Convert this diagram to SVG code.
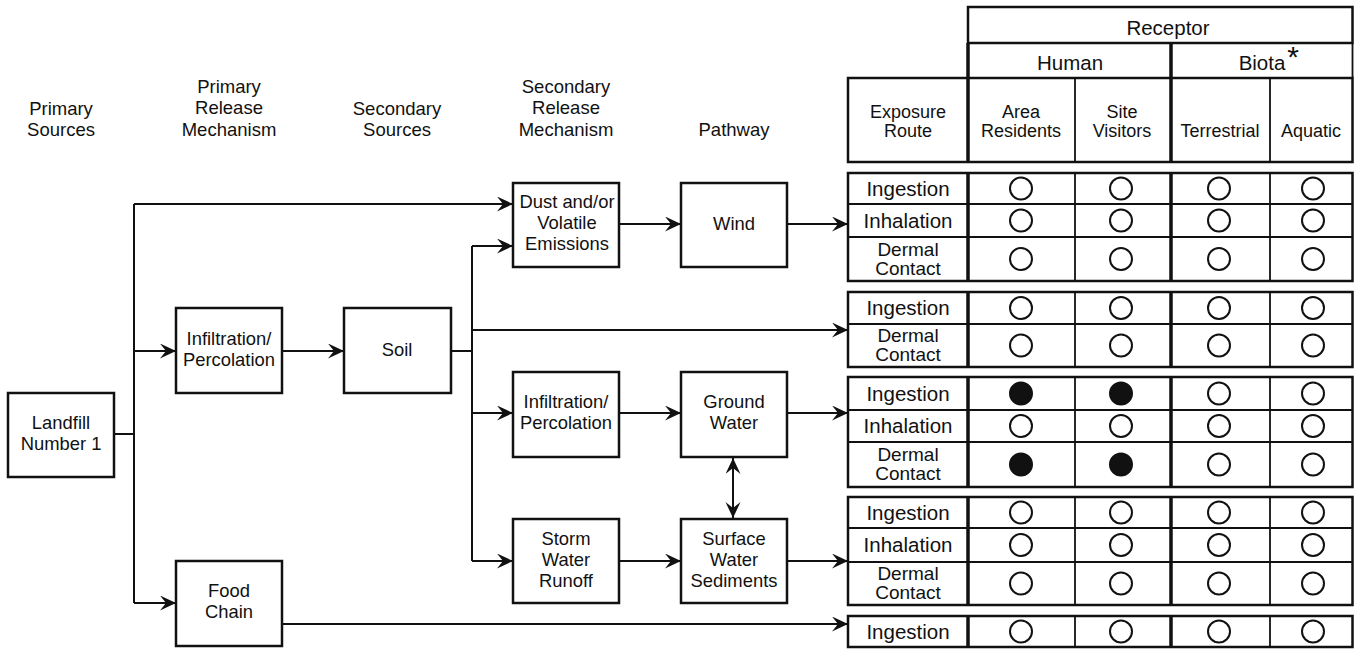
<svg xmlns="http://www.w3.org/2000/svg" width="1354" height="651" viewBox="0 0 1354 651">
<defs>
<style>
text{font-family:"Liberation Sans",Arial,sans-serif;fill:#111;text-anchor:middle}
.hd{font-size:18.5px}
.nd{font-size:18.4px}
.cell{font-size:20.5px}
.dc{font-size:19px}
.ch{font-size:18px}
.big{font-size:20.5px}
.box{fill:#fff;stroke:#111;stroke-width:2.5}
.ln{fill:none;stroke:#111;stroke-width:2}
.thin{fill:none;stroke:#111;stroke-width:1.8}
.thick{fill:none;stroke:#111;stroke-width:3.5}
.o{fill:#fff;stroke:#111;stroke-width:2}
.f{fill:#111;stroke:#111;stroke-width:2}
</style>
<marker id="ah" markerUnits="userSpaceOnUse" markerWidth="17" markerHeight="16" refX="16" refY="7.5" orient="auto-start-reverse">
<path d="M0,0 L16,7.5 L0,15 L6,7.5 Z" fill="#111"/>
</marker>
</defs>

<g id="column-labels">
<text class="hd" x="61" y="115">Primary</text>
<text class="hd" x="61" y="136">Sources</text>
<text class="hd" x="229" y="93">Primary</text>
<text class="hd" x="229" y="114">Release</text>
<text class="hd" x="229" y="136">Mechanism</text>
<text class="hd" x="397" y="115">Secondary</text>
<text class="hd" x="397" y="136">Sources</text>
<text class="hd" x="566" y="93">Secondary</text>
<text class="hd" x="566" y="114">Release</text>
<text class="hd" x="566" y="136">Mechanism</text>
<text class="hd" x="734" y="136">Pathway</text>
</g>

<g id="connectors">
<path class="ln" d="M114,434 H134"/>
<path class="ln" d="M134,204 V603"/>
<path class="ln" d="M134,204 H513" marker-end="url(#ah)"/>
<path class="ln" d="M134,351 H176" marker-end="url(#ah)"/>
<path class="ln" d="M134,603 H176" marker-end="url(#ah)"/>
<path class="ln" d="M282,351 H344" marker-end="url(#ah)"/>
<path class="ln" d="M451,351 H472"/>
<path class="ln" d="M472,246 V561"/>
<path class="ln" d="M472,246 H513" marker-end="url(#ah)"/>
<path class="ln" d="M472,330 H848" marker-end="url(#ah)"/>
<path class="ln" d="M472,413 H513" marker-end="url(#ah)"/>
<path class="ln" d="M472,561 H513" marker-end="url(#ah)"/>
<path class="ln" d="M619,224 H681" marker-end="url(#ah)"/>
<path class="ln" d="M787,224 H848" marker-end="url(#ah)"/>
<path class="ln" d="M619,413 H681" marker-end="url(#ah)"/>
<path class="ln" d="M787,413 H848" marker-end="url(#ah)"/>
<path class="ln" d="M619,561 H681" marker-end="url(#ah)"/>
<path class="ln" d="M787,561 H848" marker-end="url(#ah)"/>
<path class="ln" d="M733,458 V518" marker-start="url(#ah)" marker-end="url(#ah)"/>
<path class="ln" d="M282,624 H848" marker-end="url(#ah)"/>
</g>

<g id="landfill">
<rect class="box" x="8" y="393" width="106" height="84"/>
<text class="nd" x="61" y="429">Landfill</text>
<text class="nd" x="61" y="450">Number 1</text>
</g>
<g id="infiltration1">
<rect class="box" x="176" y="308" width="106" height="85"/>
<text class="nd" x="229" y="345">Infiltration/</text>
<text class="nd" x="229" y="366">Percolation</text>
</g>
<g id="food-chain">
<rect class="box" x="176" y="561" width="106" height="85"/>
<text class="nd" x="229" y="597">Food</text>
<text class="nd" x="229" y="618">Chain</text>
</g>
<g id="soil">
<rect class="box" x="344" y="308" width="107" height="85"/>
<text class="nd" x="397" y="356">Soil</text>
</g>
<g id="dust">
<rect class="box" x="513" y="183" width="106" height="84"/>
<text class="nd" x="567" y="208">Dust and/or</text>
<text class="nd" x="567" y="229">Volatile</text>
<text class="nd" x="567" y="250">Emissions</text>
</g>
<g id="wind">
<rect class="box" x="681" y="183" width="106" height="84"/>
<text class="nd" x="734" y="230">Wind</text>
</g>
<g id="infiltration2">
<rect class="box" x="513" y="372" width="106" height="85"/>
<text class="nd" x="566" y="408">Infiltration/</text>
<text class="nd" x="566" y="429">Percolation</text>
</g>
<g id="ground-water">
<rect class="box" x="681" y="372" width="106" height="85"/>
<text class="nd" x="734" y="408">Ground</text>
<text class="nd" x="734" y="429">Water</text>
</g>
<g id="storm">
<rect class="box" x="513" y="519" width="106" height="84"/>
<text class="nd" x="566" y="545">Storm</text>
<text class="nd" x="566" y="566">Water</text>
<text class="nd" x="566" y="587">Runoff</text>
</g>
<g id="surface">
<rect class="box" x="681" y="519" width="106" height="84"/>
<text class="nd" x="734" y="545">Surface</text>
<text class="nd" x="734" y="566">Water</text>
<text class="nd" x="734" y="587">Sediments</text>
</g>

<g id="table-header">
<rect class="box" x="968" y="7" width="384.5" height="36"/>
<text class="big" x="1168" y="35">Receptor</text>
<path class="thin" d="M968,78 H1352.5 M1352.5,43 V78"/>
<path class="thick" d="M968,43 V162 M1171,43 V162"/>
<text class="big" x="1070" y="70">Human</text>
<text class="big" x="1262" y="70">Biota</text>
<text x="1293" y="67" style="font-size:30px">*</text>
<rect class="box" x="848" y="78" width="504.5" height="84"/>
<path class="thin" d="M1075,78 V162 M1270,78 V162"/>
<path class="thick" d="M968,78 V162 M1171,78 V162"/>
<text class="ch" x="908" y="118">Exposure</text>
<text class="ch" x="908" y="137">Route</text>
<text class="ch" x="1021" y="118">Area</text>
<text class="ch" x="1021" y="137">Residents</text>
<text class="ch" x="1122" y="118">Site</text>
<text class="ch" x="1122" y="137">Visitors</text>
<text class="ch" x="1220" y="137">Terrestrial</text>
<text class="ch" x="1311" y="137">Aquatic</text>
</g>

<g id="exposure-wind">
<rect class="box" x="848" y="173" width="504.5" height="108"/>
<path class="thin" d="M848,204 H1352.5 M848,237 H1352.5 M1075,173 V281 M1270,173 V281"/>
<path class="thick" d="M968,173 V281 M1171,173 V281"/>
<text class="cell" x="908" y="196">Ingestion</text>
<text class="cell" x="908" y="228">Inhalation</text>
<text class="dc" x="908" y="256">Dermal</text>
<text class="dc" x="908" y="275">Contact</text>
<circle class="o" cx="1021" cy="188.5" r="11"/><circle class="o" cx="1121" cy="188.5" r="11"/><circle class="o" cx="1219" cy="188.5" r="11"/><circle class="o" cx="1313" cy="188.5" r="11"/>
<circle class="o" cx="1021" cy="220.5" r="11"/><circle class="o" cx="1121" cy="220.5" r="11"/><circle class="o" cx="1219" cy="220.5" r="11"/><circle class="o" cx="1313" cy="220.5" r="11"/>
<circle class="o" cx="1021" cy="259" r="11"/><circle class="o" cx="1121" cy="259" r="11"/><circle class="o" cx="1219" cy="259" r="11"/><circle class="o" cx="1313" cy="259" r="11"/>
</g>

<g id="exposure-soil">
<rect class="box" x="848" y="292" width="504.5" height="75"/>
<path class="thin" d="M848,324 H1352.5 M1075,292 V367 M1270,292 V367"/>
<path class="thick" d="M968,292 V367 M1171,292 V367"/>
<text class="cell" x="908" y="315">Ingestion</text>
<text class="dc" x="908" y="342">Dermal</text>
<text class="dc" x="908" y="361">Contact</text>
<circle class="o" cx="1021" cy="308" r="11"/><circle class="o" cx="1121" cy="308" r="11"/><circle class="o" cx="1219" cy="308" r="11"/><circle class="o" cx="1313" cy="308" r="11"/>
<circle class="o" cx="1021" cy="345.5" r="11"/><circle class="o" cx="1121" cy="345.5" r="11"/><circle class="o" cx="1219" cy="345.5" r="11"/><circle class="o" cx="1313" cy="345.5" r="11"/>
</g>

<g id="exposure-groundwater">
<rect class="box" x="848" y="377" width="504.5" height="110"/>
<path class="thin" d="M848,410 H1352.5 M848,442 H1352.5 M1075,377 V487 M1270,377 V487"/>
<path class="thick" d="M968,377 V487 M1171,377 V487"/>
<text class="cell" x="908" y="401">Ingestion</text>
<text class="cell" x="908" y="433">Inhalation</text>
<text class="dc" x="908" y="461">Dermal</text>
<text class="dc" x="908" y="480">Contact</text>
<circle class="f" cx="1021" cy="393.5" r="11"/><circle class="f" cx="1121" cy="393.5" r="11"/><circle class="o" cx="1219" cy="393.5" r="11"/><circle class="o" cx="1313" cy="393.5" r="11"/>
<circle class="o" cx="1021" cy="426" r="11"/><circle class="o" cx="1121" cy="426" r="11"/><circle class="o" cx="1219" cy="426" r="11"/><circle class="o" cx="1313" cy="426" r="11"/>
<circle class="f" cx="1021" cy="464.5" r="11"/><circle class="f" cx="1121" cy="464.5" r="11"/><circle class="o" cx="1219" cy="464.5" r="11"/><circle class="o" cx="1313" cy="464.5" r="11"/>
</g>

<g id="exposure-surfacewater">
<rect class="box" x="848" y="497" width="504.5" height="108"/>
<path class="thin" d="M848,528 H1352.5 M848,562 H1352.5 M1075,497 V605 M1270,497 V605"/>
<path class="thick" d="M968,497 V605 M1171,497 V605"/>
<text class="cell" x="908" y="520">Ingestion</text>
<text class="cell" x="908" y="552">Inhalation</text>
<text class="dc" x="908" y="580">Dermal</text>
<text class="dc" x="908" y="599">Contact</text>
<circle class="o" cx="1021" cy="512.5" r="11"/><circle class="o" cx="1121" cy="512.5" r="11"/><circle class="o" cx="1219" cy="512.5" r="11"/><circle class="o" cx="1313" cy="512.5" r="11"/>
<circle class="o" cx="1021" cy="545" r="11"/><circle class="o" cx="1121" cy="545" r="11"/><circle class="o" cx="1219" cy="545" r="11"/><circle class="o" cx="1313" cy="545" r="11"/>
<circle class="o" cx="1021" cy="583.5" r="11"/><circle class="o" cx="1121" cy="583.5" r="11"/><circle class="o" cx="1219" cy="583.5" r="11"/><circle class="o" cx="1313" cy="583.5" r="11"/>
</g>

<g id="exposure-foodchain">
<rect class="box" x="848" y="616" width="504.5" height="31"/>
<path class="thin" d="M1075,616 V647 M1270,616 V647"/>
<path class="thick" d="M968,616 V647 M1171,616 V647"/>
<text class="cell" x="908" y="639">Ingestion</text>
<circle class="o" cx="1021" cy="631.5" r="11"/><circle class="o" cx="1121" cy="631.5" r="11"/><circle class="o" cx="1219" cy="631.5" r="11"/><circle class="o" cx="1313" cy="631.5" r="11"/>
</g>
</svg>
